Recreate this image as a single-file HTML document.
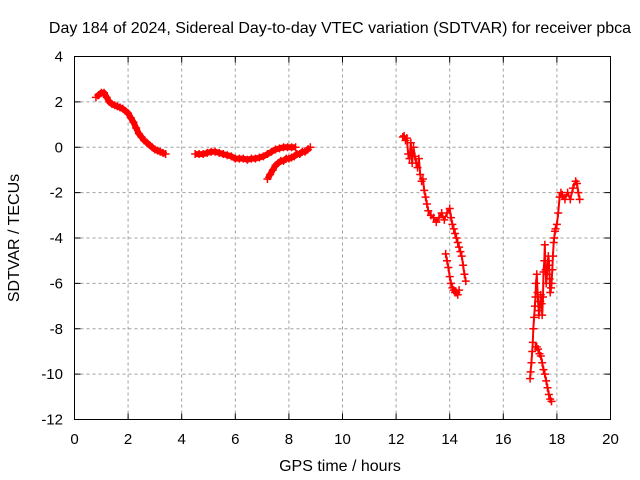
<!DOCTYPE html>
<html><head><meta charset="utf-8"><style>
body{margin:0;background:#fff}
svg{display:block;font-family:"Liberation Sans",sans-serif}
</style></head><body>
<svg id="chart" width="640" height="480" viewBox="0 0 640 480">
<text x="340" y="33" font-size="16" text-anchor="middle">Day 184 of 2024, Sidereal Day-to-day VTEC variation (SDTVAR) for receiver pbca</text>
<text x="340" y="471" font-size="16" text-anchor="middle">GPS time / hours</text>
<text x="19" y="238" font-size="16" text-anchor="middle" transform="rotate(-90 19 238)">SDTVAR / TECUs</text>
<g id="grid"></g><g id="marks"></g>
<rect x="74.5" y="56.5" width="536" height="363" fill="none" stroke="#000"/>
</svg>
<script>
const xTicks=[0,2,4,6,8,10,12,14,16,18,20];
const yTicks=[4,2,0,-2,-4,-6,-8,-10,-12];
const t1=[0.8,0.9,1.0,1.1,1.2,1.3,1.4,1.5,1.6,1.7,1.8,1.9,2.0,2.1,2.2,2.3,2.4,2.5,2.6,2.7,2.8,2.9,3.0,3.1,3.2,3.3,3.4];
const v1=[2.2,2.3,2.4,2.4,2.2,2.0,1.9,1.85,1.8,1.75,1.7,1.6,1.5,1.3,1.1,0.85,0.6,0.45,0.3,0.2,0.1,0.0,-0.1,-0.15,-0.2,-0.25,-0.3];
const t2=[4.5,4.65,4.8,4.95,5.1,5.25,5.4,5.55,5.7,5.85,6.0,6.15,6.3,6.45,6.6,6.75,6.9,7.05,7.2,7.35,7.5,7.65,7.8,7.95,8.1,8.25];
const v2=[-0.3,-0.3,-0.3,-0.25,-0.2,-0.2,-0.25,-0.3,-0.35,-0.4,-0.5,-0.5,-0.5,-0.55,-0.5,-0.5,-0.45,-0.4,-0.3,-0.2,-0.1,-0.05,0.0,0.0,0.0,0.0];
const t3=[7.2,7.3,7.4,7.5,7.6,7.7,7.8,7.9,8.0,8.1,8.2,8.3,8.4,8.5,8.6,8.7,8.8];
const v3=[-1.4,-1.2,-1.0,-0.8,-0.7,-0.6,-0.6,-0.5,-0.5,-0.45,-0.4,-0.3,-0.3,-0.2,-0.2,-0.1,0.0];
const t4=[12.25,12.3,12.35,12.4,12.45,12.5,12.55,12.6,12.65,12.7,12.75,12.8,12.85,12.9,12.95,13.0,13.05,13.1,13.15,13.2,13.3,13.4,13.5,13.6,13.7,13.8,13.9,14.0,14.05,14.1,14.15,14.2,14.25,14.3,14.35,14.4,14.45,14.5,14.55,14.6];
const v4=[0.45,0.5,0.3,0.4,-0.3,-0.5,0.2,-0.7,0.0,-0.4,-0.7,-0.9,-0.5,-1.2,-1.5,-1.4,-1.9,-2.2,-2.5,-2.8,-3.0,-3.1,-3.3,-3.1,-2.9,-3.2,-2.9,-2.7,-3.1,-3.4,-3.6,-3.8,-4.0,-4.2,-4.4,-4.6,-4.8,-5.2,-5.6,-5.9];
const t5=[13.85,13.9,13.95,14.0,14.05,14.1,14.15,14.2,14.25,14.3,14.35];
const v5=[-4.7,-5.0,-5.3,-5.7,-6.0,-6.2,-6.3,-6.4,-6.4,-6.5,-6.3];
const t6=[17.0,17.02,17.05,17.08,17.1,17.12,17.15,17.18,17.2,17.22,17.25,17.28,17.3,17.33,17.35,17.38,17.4,17.43,17.45,17.48,17.5,17.53,17.55,17.58,17.6,17.63,17.65,17.68,17.7,17.73,17.75,17.78,17.8,17.83,17.85,17.88,17.9,17.93,17.95,18.0,18.05,18.1,18.15,18.2,18.3,18.4,18.5,18.6,18.7,18.75,18.8,18.85];
const v6=[-10.2,-9.9,-9.5,-9.0,-8.6,-8.0,-7.5,-7.0,-6.6,-6.0,-5.6,-6.4,-6.8,-7.4,-7.2,-6.8,-6.5,-6.9,-7.4,-6.6,-5.5,-5.0,-4.3,-5.4,-6.0,-5.6,-5.2,-4.8,-5.0,-5.8,-6.4,-6.2,-6.0,-5.4,-4.8,-4.2,-4.0,-3.7,-3.6,-3.4,-2.9,-2.2,-2.0,-2.1,-2.3,-2.0,-2.3,-1.8,-1.5,-1.6,-2.0,-2.3];
const t7=[17.2,17.25,17.3,17.35,17.4,17.45,17.5,17.55,17.6,17.65,17.7,17.75,17.8];
const v7=[-8.8,-8.8,-8.9,-9.1,-9.2,-9.5,-9.8,-10.0,-10.3,-10.6,-10.9,-11.1,-11.2];
const segTimes=[t1,t2,t3,t4,t5,t6,t7];
const segValues=[v1,v2,v3,v4,v5,v6,v7];
const X0=74.5,X1=610.5,Y0=56.5,Y1=419.5;
const xs=t=>X0+(t-0)/(20-0)*(X1-X0);
const ys=v=>Y0+(4-v)/(4-(-12))*(Y1-Y0);
const NS='http://www.w3.org/2000/svg';
const svg=document.getElementById('chart'),grid=document.getElementById('grid'),marks=document.getElementById('marks');
function mk(tag,at,parent){const e=document.createElementNS(NS,tag);for(const k in at)e.setAttribute(k,at[k]);parent.appendChild(e);return e;}
xTicks.forEach(t=>{const x=xs(t);
 if(t>0&&t<20){const g=mk('line',{x1:x,x2:x,y1:Y0,y2:Y1,stroke:'#a0a0a0','stroke-dasharray':'3,3'},grid);
 
 }
 mk('line',{x1:x,x2:x,y1:Y1,y2:Y1-6,stroke:'#000'},grid);mk('line',{x1:x,x2:x,y1:Y0,y2:Y0+6,stroke:'#000'},grid);
 const l=mk('text',{x:x,y:444,'font-size':15,'text-anchor':'middle'},svg);l.textContent=t;
 
 });
yTicks.forEach(v=>{const y=ys(v);
 if(v<4&&v>-12){const g=mk('line',{x1:X0,x2:X1,y1:y,y2:y,stroke:'#a0a0a0','stroke-dasharray':'3,3'},grid);
 
 }
 mk('line',{x1:X0,x2:X0+6,y1:y,y2:y,stroke:'#000'},grid);mk('line',{x1:X1,x2:X1-6,y1:y,y2:y,stroke:'#000'},grid);
 const l=mk('text',{x:63,y:y+5,'font-size':15,'text-anchor':'end'},svg);l.textContent=v;
 
 });
segTimes.forEach((ts,s)=>{
 const vs=segValues[s];
 let line='',d='';
 for(let i=0;i<ts.length;i++){const x=xs(ts[i]),y=ys(vs[i]);
  line+=(i?'L':'M')+x.toFixed(1)+' '+y.toFixed(1);
  d+=`M${x-4} ${y}h8M${x} ${y-4}v8`;}
 const dense=s<3;
 const b=mk('path',{d:line,fill:'none',stroke:'#f00','stroke-width':dense?6:2,'stroke-linejoin':'round'},marks);
 
 
 const p=mk('path',{d:d,stroke:'#f00','stroke-width':1.5,fill:'none'},marks);
 
 
});
</script>
</body></html>
